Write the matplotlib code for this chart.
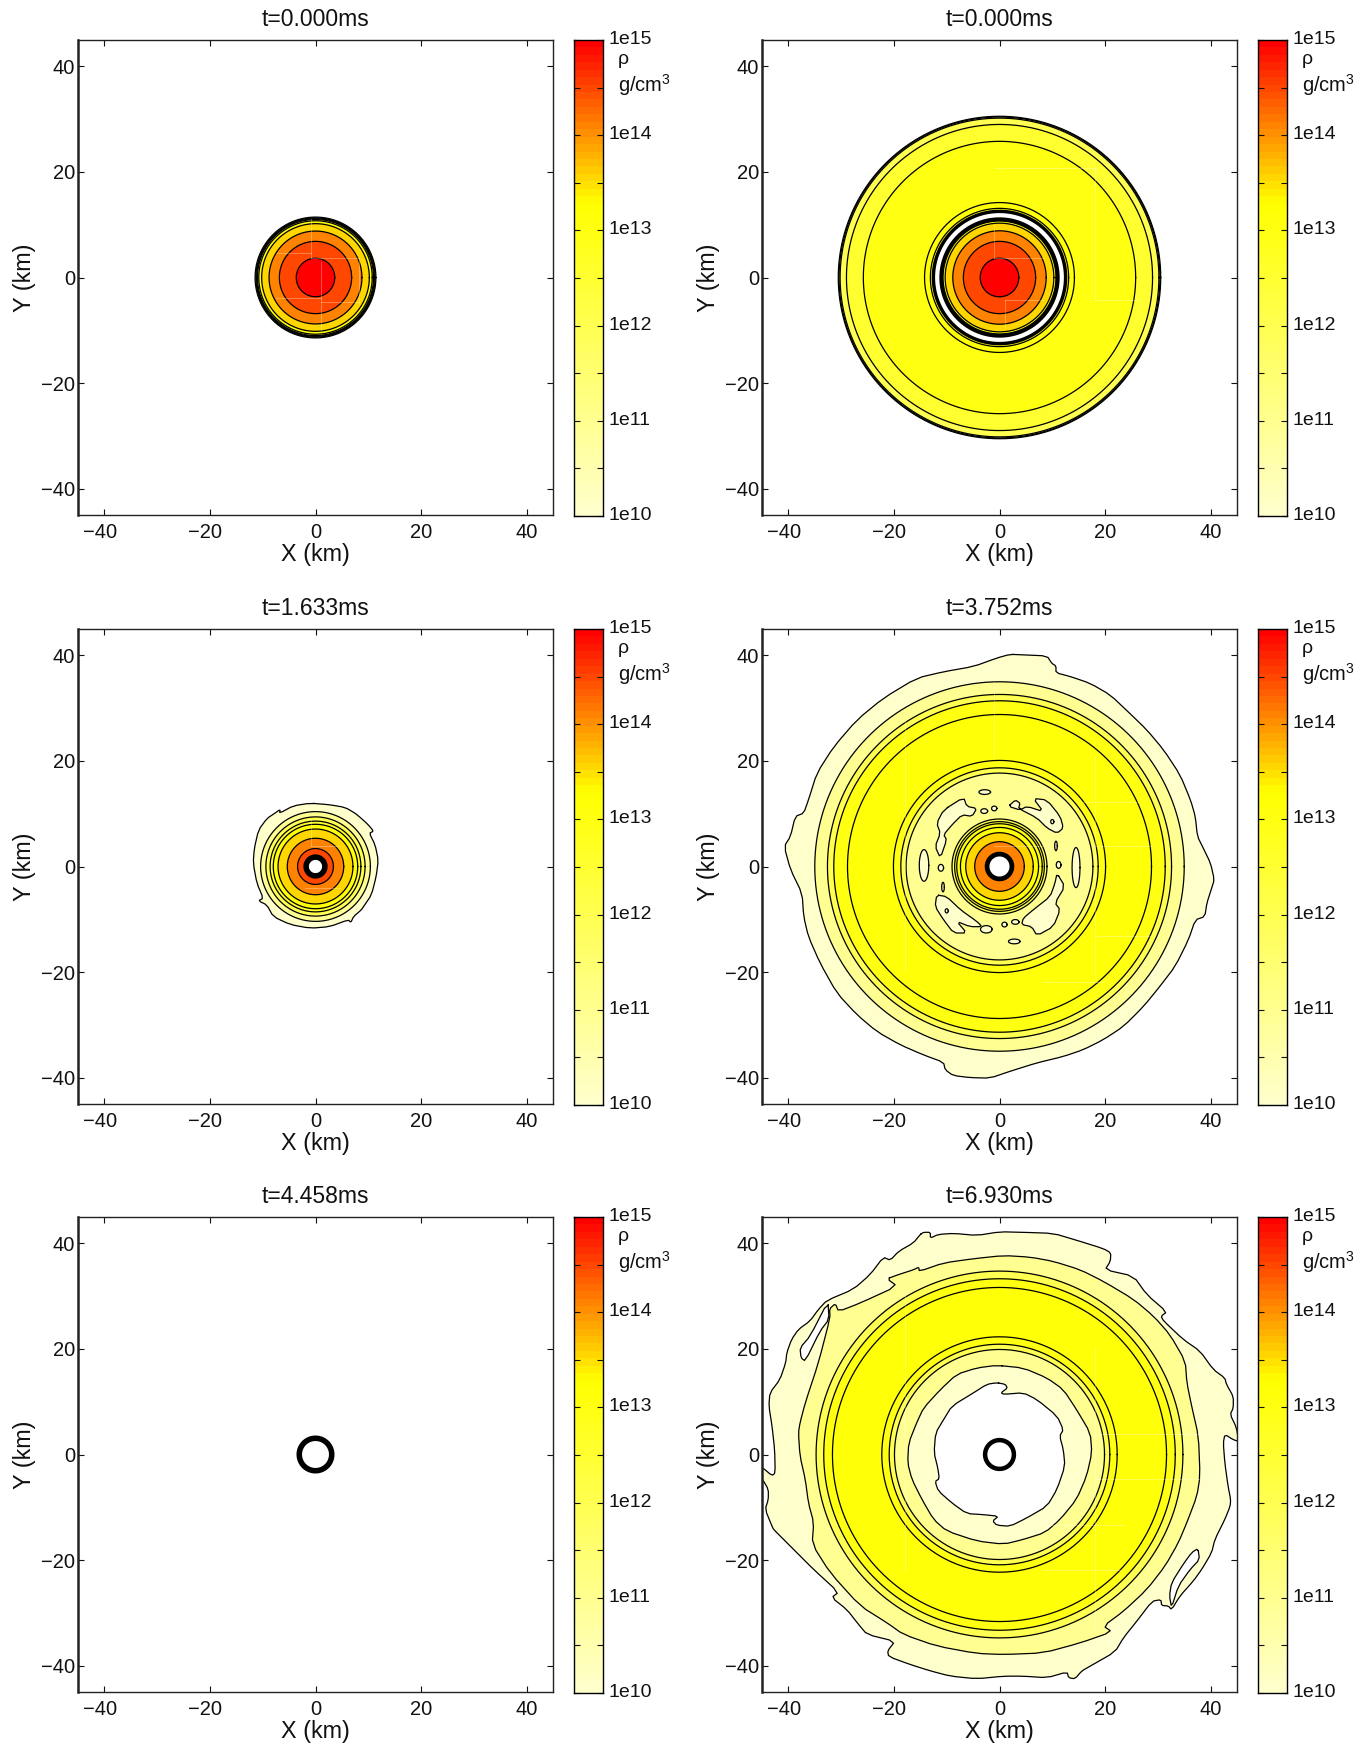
import numpy as np
import matplotlib
matplotlib.use("Agg")
import matplotlib.pyplot as plt
from matplotlib.colors import LinearSegmentedColormap, Normalize
from matplotlib.transforms import ScaledTranslation

plt.rcParams['font.family'] = ['Liberation Sans', 'DejaVu Sans']
plt.rcParams['mathtext.fontset'] = 'custom'
plt.rcParams['mathtext.rm'] = 'Liberation Sans'
plt.rcParams['mathtext.default'] = 'regular'

TITLES = ["t=0.000ms", "t=0.000ms", "t=1.633ms", "t=3.752ms", "t=4.458ms", "t=6.930ms"]
X_TICKS = [-40, -20, 0, 20, 40]
CB_LABELS = ["1e10", "1e11", "1e12", "1e13", "1e14", "1e15"]
CB_EXPONENTS = [10, 11, 12, 13, 14, 15]
CB_MINOR = [10.5, 11.5, 12.5, 13.5, 14.5]

BLACK = -1.0          # densely packed contours, seen as a solid black ring
EMPTY = float('nan')  # no matter: white

# --- circular contours: radius (km) and log10(rho) of the band inside it
P1_RADII = [11.45, 11.3, 11.15, 11.0, 10.75, 10.2, 8.8, 6.85, 3.65]
P1_LEVELS = [10, 11, 12, 12.5, 13.2, 13.57, 14.07, 14.5, 15]

P2_RADII = [30.55, 30.4, 30.2, 29.0, 25.8, 14.2, 13.1, 12.85, 12.2, 11.4, 10.7, 10.3, 8.85, 6.85, 3.66]
P2_LEVELS = [10, 11, 12, 12.5, 13, 13.2, 13, BLACK, EMPTY, BLACK, 13.2, 13.57, 14.07, 14.5, 15]

P3_RADII = [10.4, 9.4, 8.6, 8.0, 7.1, 5.35, 3.4, 2.3, 1.25]
P3_LEVELS = [11, 12, 12.5, 13.2, 13.57, 14.07, 14.5, BLACK, EMPTY]

P4_OUTER_RADII = [35.0, 32.6, 31.4, 28.8, 20.1, 18.7, 17.7]
P4_OUTER_LEVELS = [11, 12, 13, 13.2, 13, 12, 11]
P4_INNER_RADII = [9.0, 8.5, 8.1, 7.4, 6.4, 4.7, 2.8, 1.9]
P4_INNER_LEVELS = [12, 12.5, 13, 13.2, 13.57, 14.07, BLACK, EMPTY]

P5_RADII = [3.6, 2.55]
P5_LEVELS = [BLACK, EMPTY]

P6_OUTER_RADII = [34.75, 33.3, 31.65, 22.3, 20.9, 19.9]
P6_OUTER_LEVELS = [12, 13, 13.2, 13, 12, 11]
P6_CORE_RADII = [3.15, 2.3]
P6_CORE_LEVELS = [BLACK, EMPTY]

# --- irregular contours (x, y in km)
P3_EDGE = [(-1.0, 12.0), (2.7, 11.7), (5.6, 11.2), (7.5, 10.1), (8.7, 9.1), (10.0, 7.9), (11.0, 6.7),
           (10.2, 6.3), (11.3, 4.1), (11.9, 1.2), (11.5, -1.9), (10.6, -5.4), (9.1, -7.6), (8.7, -8.2),
           (7.2, -9.5), (6.7, -10.6), (6.2, -10.1), (2.7, -11.4), (-1.0, -11.7), (-4.8, -11.0),
           (-8.0, -9.5), (-9.2, -7.3), (-10.8, -6.5), (-9.9, -6.0), (-11.1, -3.2), (-11.8, 0.6),
           (-11.6, 3.4), (-10.8, 6.9), (-9.2, 9.1), (-7.7, 10.1), (-6.7, 10.8), (-6.8, 10.1), (-4.2, 11.5)]

P4_EDGE = [(2.0, 40.2), (4.5, 40.1), (9.0, 39.9), (9.9, 38.5), (10.7, 38.0), (10.7, 36.7), (13.4, 36.0),
           (17.2, 34.7), (21.0, 32.5), (24.7, 29.0), (27.9, 25.9), (31.1, 22.1), (34.2, 17.4), (36.2, 12.6),
           (37.1, 9.5), (37.5, 5.7), (38.6, 3.5), (40.0, 0.6), (40.7, -2.5), (40.2, -4.1), (39.3, -6.9),
           (38.9, -9.5), (37.1, -10.1), (35.8, -13.9), (33.3, -18.9), (30.4, -22.7), (27.3, -26.5),
           (23.5, -30.3), (19.7, -32.8), (15.9, -34.7), (12.1, -36.0), (7.1, -37.2), (2.0, -38.8),
           (-1.8, -40.1), (-5.6, -40.0), (-8.8, -39.6), (-10.3, -38.5), (-10.6, -37.1), (-14.4, -35.7),
           (-18.8, -33.8), (-23.2, -31.3), (-27.0, -28.1), (-30.8, -24.0), (-34.0, -18.3), (-36.2, -13.3),
           (-37.1, -9.5), (-37.4, -5.1), (-39.6, -0.6), (-40.8, 3.8), (-39.6, 5.7), (-38.7, 9.5),
           (-37.1, 10.1), (-36.2, 12.6), (-34.6, 17.7), (-31.4, 22.7), (-27.0, 27.8), (-22.0, 31.9),
           (-15.7, 35.7), (-10.6, 36.9), (-4.9, 37.9), (-0.5, 39.5)]

P4_BLOBS = [
    [(-10.6, 10.7), (-6.8, 13.1), (-6.2, 11.4), (-4.3, 11.0), (-5.2, 9.5), (-7.1, 9.8), (-9.0, 7.9),
     (-10.6, 6.0), (-10.0, 5.1), (-11.2, 1.6), (-12.2, 3.8), (-11.2, 6.3), (-11.9, 8.2)],
    [(1.7, 11.4), (3.0, 12.6), (3.9, 12.0), (3.6, 11.0), (7.1, 9.2), (9.0, 7.3), (10.9, 6.3), (12.1, 7.3),
     (11.5, 9.5), (9.0, 12.6), (6.4, 12.9), (8.3, 10.4), (5.2, 11.4), (3.9, 10.7)],
    [(-11.9, -5.4), (-10.0, -5.7), (-7.4, -8.2), (-4.3, -10.4), (-3.3, -11.4), (-5.6, -11.4), (-8.1, -10.4),
     (-6.2, -12.6), (-8.7, -12.6), (-10.6, -10.1), (-12.2, -7.6)],
    [(10.9, -1.3), (12.4, -3.8), (10.5, -6.9), (11.5, -8.2), (10.2, -11.4), (7.1, -13.1), (6.1, -11.4),
     (4.2, -11.0), (4.5, -9.8), (6.4, -8.2), (9.6, -5.7), (10.5, -3.2)],
]
# small islands: centre x, centre y, half width, half height (km)
P4_ISLANDS = [(-2.8, 14.1, 1.1, .45), (-2.9, 10.5, .65, .45), (-1.0, 11.0, .5, .45), (-14.3, 0.2, .9, 3.0),
              (14.5, -0.2, .75, 3.8), (-11.1, -0.25, .5, .65), (11.2, 0.3, .45, .65), (2.8, -14.2, 1.1, .45),
              (0.95, -11.0, .5, .45), (3.0, -10.5, .7, .45), (10.0, 8.5, .3, .4), (-10.0, -8.4, .3, .4),
              (-2.5, -11.9, 1.1, .7), (10.7, 3.9, .25, .9), (-10.7, -3.9, .25, .9)]

P6_EDGE = [(-15.0, 41.7), (-14.4, 42.1), (-13.1, 42.1), (-13.1, 41.0), (-11.6, 41.7), (-8.7, 41.9), (-4.3, 41.5),
           (0.1, 42.2), (4.5, 42.1), (10.2, 41.9), (14.6, 40.6), (19.7, 39.0), (21.1, 38.2), (21.0, 36.6),
           (20.0, 35.0), (25.4, 33.8), (27.9, 30.3), (31.7, 27.0), (30.6, 26.2), (31.1, 25.3), (34.8, 21.8),
           (38.0, 19.6), (40.5, 16.1), (42.7, 14.5), (43.0, 13.3), (44.3, 11.0), (44.3, 8.8), (43.7, 7.6),
           (44.9, 5.1), (45.3, 2.5), (44.3, 2.8), (42.7, 3.8), (42.4, 2.2), (42.7, -1.6), (43.3, -6.0),
           (43.8, -8.5), (43.7, -9.8), (42.7, -12.3), (40.8, -16.1), (40.2, -18.6), (38.3, -21.8), (36.7, -24.0),
           (34.2, -26.8), (32.6, -29.4), (32.0, -28.7), (30.7, -28.6), (30.6, -27.5), (28.9, -27.8), (26.0, -31.6),
           (23.5, -34.7), (21.9, -37.4), (17.2, -40.1), (15.6, -41.0), (14.3, -42.5), (13.1, -42.3), (12.8, -41.2),
           (9.0, -42.3), (4.5, -42.0), (0.8, -42.0), (-4.3, -42.5), (-9.3, -42.0), (-13.1, -41.0), (-16.9, -39.8),
           (-21.0, -38.3), (-21.2, -37.2), (-19.8, -35.4), (-25.1, -34.1), (-26.7, -32.2), (-28.9, -29.4),
           (-31.8, -27.1), (-30.5, -26.1), (-35.2, -21.8), (-38.4, -18.6), (-40.9, -16.1), (-42.8, -14.2),
           (-43.1, -13.6), (-44.4, -10.4), (-43.8, -8.5), (-43.8, -6.6), (-44.9, -4.7), (-46.0, -4.5), (-46.0, -2.2),
           (-44.9, -2.5), (-43.1, -4.0), (-42.5, -3.5), (-42.6, 0.9), (-43.1, 5.4), (-43.7, 9.2), (-43.5, 11.7),
           (-41.6, 14.2), (-40.5, 17.4), (-40.3, 19.3), (-39.4, 21.8), (-38.1, 23.7), (-35.9, 25.3), (-34.3, 27.5),
           (-32.7, 29.2), (-27.7, 31.3), (-24.5, 34.1), (-22.0, 37.4), (-20.7, 36.8), (-19.1, 38.5), (-16.3, 40.1)]

P6_SECOND = [(-21.3, 33.3), (-19.1, 34.1), (-16.3, 35.0), (-15.3, 35.5), (-15.2, 34.7), (-10.6, 36.3), (-4.9, 37.1),
             (0.8, 37.7), (5.8, 37.4), (10.2, 36.6), (15.3, 35.0), (19.7, 32.8), (25.4, 29.4), (29.2, 26.2),
             (32.3, 22.7), (35.2, 17.7), (35.5, 13.6), (36.4, 9.2), (37.7, 3.5), (38.0, -4.1), (37.4, -7.9),
             (35.5, -12.9), (33.9, -16.7), (31.4, -21.1), (27.9, -25.6), (23.5, -29.7), (19.7, -32.5), (21.3, -33.6),
             (15.3, -35.7), (8.3, -37.6), (0.8, -37.9), (-4.3, -37.7), (-11.9, -36.3), (-18.2, -34.1), (-21.3, -31.9),
             (-26.4, -28.7), (-32.1, -22.4), (-35.5, -17.0), (-35.2, -12.9), (-36.2, -9.2), (-36.8, -4.7),
             (-37.8, -0.3), (-38.1, 4.1), (-37.8, 6.0), (-36.8, 9.8), (-34.3, 17.4), (-32.1, 25.9), (-32.2, 27.6),
             (-31.1, 28.6), (-30.5, 27.1), (-26.4, 28.7), (-19.4, 31.9)]

P6_SLIVERS = [
    [(37.6, -17.8), (37.9, -19.9), (36.1, -21.8), (33.9, -24.9), (32.6, -29.0), (32.2, -26.8), (32.6, -24.3),
     (34.8, -20.8), (36.4, -18.6)],
    [(-32.5, 29.0), (-32.3, 25.6), (-34.0, 23.4), (-36.8, 17.7), (-37.6, 18.3), (-37.8, 20.2), (-35.9, 22.4)],
]

P6_THIRD = [(-0.5, 16.9), (4.5, 16.4), (9.0, 14.5), (12.1, 12.3), (14.6, 8.5), (17.2, 4.1), (17.5, 0.3), (16.5, -4.1),
            (14.6, -8.5), (11.5, -12.3), (8.6, -14.8), (4.5, -16.1), (0.8, -17.0), (-4.3, -16.4), (-10.0, -14.5),
            (-12.5, -12.3), (-14.7, -8.5), (-16.6, -4.7), (-17.4, -1.6), (-17.2, 2.2), (-15.7, 6.0), (-14.4, 8.8),
            (-11.2, 12.3), (-8.1, 15.2), (-4.3, 16.4)]

P6_HOLE = [(-0.5, 13.6), (1.1, 13.3), (1.5, 12.6), (0.3, 11.7), (0.8, 11.4), (4.5, 11.7), (7.1, 10.4), (10.9, 7.3),
           (12.1, 4.7), (11.4, 3.5), (12.1, 0.9), (12.4, -2.2), (10.9, -6.6), (9.0, -9.8), (5.2, -12.0), (2.0, -13.6),
           (-0.5, -13.4), (-1.3, -12.6), (-0.2, -11.7), (-3.0, -11.4), (-6.2, -11.2), (-9.0, -9.2), (-11.6, -6.9),
           (-12.2, -5.1), (-11.4, -4.6), (-11.7, -2.5), (-12.4, 0.3), (-12.1, 4.1), (-10.6, 6.6), (-9.0, 9.2),
           (-4.9, 11.7), (-2.4, 13.3)]

# faint mesh-refinement boundaries seen on the density field: x0, y0, x1, y1 (km)
P1_MESH = [(-0.9, 11, -0.9, 3.7), (-0.9, 3.7, 8.3, 3.7), (-7.3, 4.7, -0.9, 4.7), (8.3, 3.7, 8.3, -4.9),
           (1.1, -4.7, 8.3, -4.7), (1.1, 3.0, 1.1, -9.9), (-7.5, -3.9, 1.1, -3.9)]
P2_MESH = [(-0.95, 3.7, -0.95, 10.0), (-0.95, 3.7, 8.3, 3.7), (1.1, -4.2, 8.3, -4.2), (1.1, -4.2, 1.1, -9.5),
           (-0.8, 20.8, 18.4, 20.8), (18.1, 20.8, 18.1, -4.2), (18.1, -4.2, 26.6, -4.2)]
P3_MESH = [(-0.9, 8.8, -0.9, 3.8), (-0.9, 3.8, 4.6, 3.8), (-2.0, -4.0, 4.6, -4.0)]
P4_MESH = [(15.9, 12.3, 26.0, 12.3), (-1.0, 3.8, 8.0, 3.8), (17.5, 3.8, 28.5, 3.8), (18.1, 21.0, 18.1, -21.0),
           (18.0, -13.1, 28.5, -13.1), (8.3, -21.8, 19.7, -21.8), (-17.9, 27.8, -17.9, -20.0), (-1.0, 35.0, -1.0, 20.5)]
P6_MESH = [(18.1, 3.8, 38.0, 3.8), (18.1, -4.7, 38.0, -4.7), (8.3, -13.3, 23.5, -13.3), (8.3, -21.8, 22.9, -21.8),
           (18.1, 20.5, 18.1, -33.0), (-18.0, 31.0, -18.0, -22.0)]

# colour scale: pale yellow -> yellow -> red in log10(rho)
CMAP = LinearSegmentedColormap.from_list(
    "rho", [(0.0, (1, 1, 0.8)), (0.66, (1, 1, 0)), (1.0, (1, 0, 0))], N=64)
NORM = Normalize(10, 15)

W, H = 1369, 1743
fig = plt.figure(figsize=(W / 100, H / 100), dpi=100, facecolor='white')
COLS = [(78, 553, 574.3), (762, 1237, 1258.3)]
ROWS = [40, 629, 1217]
SIDE = 475.0
THETA = np.linspace(0, 2 * np.pi, 361)
LINE_W = 0.9


def chaikin(p):
    q = np.roll(p, -1, axis=0)
    out = np.empty((2 * len(p), 2))
    out[0::2] = 0.8 * p + 0.2 * q
    out[1::2] = 0.2 * p + 0.8 * q
    return out


def band(ax, x, y, level):
    x = np.r_[x, x[0]]
    y = np.r_[y, y[0]]
    if level == BLACK:
        ax.fill(x, y, color='k', lw=0)
    elif np.isnan(level):
        ax.fill(x, y, color='white', lw=0)
    else:
        ax.fill(x, y, color=CMAP(NORM(level)), lw=0)
        ax.plot(x, y, color='k', lw=LINE_W)


def circles(ax, radii, levels):
    for r, lev in zip(radii, levels):
        band(ax, r * np.cos(THETA[:-1]), r * np.sin(THETA[:-1]), lev)


def poly(ax, pts, level):
    p = chaikin(np.array(pts))
    band(ax, p[:, 0], p[:, 1], level)


def outlined_hole(ax, pts):
    p = chaikin(np.array(pts))
    ax.fill(p[:, 0], p[:, 1], color='white', lw=0)
    ax.plot(np.r_[p[:, 0], p[0, 0]], np.r_[p[:, 1], p[0, 1]], color='k', lw=LINE_W)


def islands(ax, items, level):
    for cx, cy, rx, ry in items:
        band(ax, cx + rx * np.cos(THETA[:-1]), cy + ry * np.sin(THETA[:-1]), level)


def mesh(ax, segments):
    for x0, y0, x1, y1 in segments:
        ax.plot([x0, x1], [y0, y1], color='white', alpha=0.3, lw=0.7, zorder=2.5)


def panel1(ax):
    circles(ax, P1_RADII, P1_LEVELS)
    mesh(ax, P1_MESH)


def panel2(ax):
    circles(ax, P2_RADII, P2_LEVELS)
    mesh(ax, P2_MESH)


def panel3(ax):
    poly(ax, P3_EDGE, 10)
    circles(ax, P3_RADII, P3_LEVELS)
    mesh(ax, P3_MESH)


def panel4(ax):
    poly(ax, P4_EDGE, 10)
    circles(ax, P4_OUTER_RADII, P4_OUTER_LEVELS)
    for b in P4_BLOBS:
        poly(ax, b, 10)
    islands(ax, P4_ISLANDS, 10)
    circles(ax, P4_INNER_RADII, P4_INNER_LEVELS)
    mesh(ax, P4_MESH)


def panel5(ax):
    circles(ax, P5_RADII, P5_LEVELS)


def panel6(ax):
    poly(ax, P6_EDGE, 10)
    for s in P6_SLIVERS:
        outlined_hole(ax, s)
    poly(ax, P6_SECOND, 11)
    circles(ax, P6_OUTER_RADII, P6_OUTER_LEVELS)
    poly(ax, P6_THIRD, 10)
    outlined_hole(ax, P6_HOLE)
    circles(ax, P6_CORE_RADII, P6_CORE_LEVELS)
    mesh(ax, P6_MESH)


PAINTERS = [panel1, panel2, panel3, panel4, panel5, panel6]

for i, (title, painter) in enumerate(zip(TITLES, PAINTERS)):
    row, col = i // 2, i % 2
    left, right, cb_left = COLS[col]
    top = ROWS[row]
    ax = fig.add_axes([left / W, 1 - (top + SIDE) / H, (right - left) / W, SIDE / H])
    painter(ax)
    ax.set_xlim(-45, 45)
    ax.set_ylim(-45, 45)
    ax.set_xticks(X_TICKS)
    ax.set_yticks(X_TICKS)
    ax.tick_params(direction='in', top=True, right=True, length=4.5, width=0.8, labelsize=14.5, colors='#111111')
    ax.tick_params(axis='x', pad=6)
    ax.tick_params(axis='y', pad=2.2)
    ax.set_title(title, fontsize=16.5, pad=10, color='#111111')
    ax.set_xlabel("X (km)", fontsize=16.8, labelpad=0.6, color='#111111')
    ax.set_ylabel("Y (km)", fontsize=16.8, labelpad=3.5, color='#111111')
    # negative x labels sit left of their ticks in the reference
    shift_left = ScaledTranslation(-4.5 / 100, 0, fig.dpi_scale_trans)
    fig.canvas.draw_idle()
    for tick_value, lab in zip(X_TICKS, ax.get_xticklabels()):
        if tick_value < 0:
            lab.set_transform(lab.get_transform() + shift_left)
    for name, s in ax.spines.items():
        s.set_linewidth(1.8 if name == 'left' else 1.0)
        s.set_color('#222222')

    cax = fig.add_axes([cb_left / W, 1 - (top + SIDE + 1) / H, 29 / W, (SIDE + 1) / H])
    grad = np.linspace(10, 15, 64)[:, None]
    cax.pcolormesh([0, 1], np.linspace(10, 15, 65), grad, cmap=CMAP, norm=NORM)
    cax.set_xlim(0, 1)
    cax.set_ylim(10, 15)
    cax.set_xticks([])
    cax.yaxis.tick_right()
    cax.set_yticks(CB_EXPONENTS)
    cax.set_yticklabels(CB_LABELS)
    cax.set_yticks(CB_MINOR, minor=True)
    cax.tick_params(which='both', axis='y', direction='in', left=True, right=True, length=4.5, width=0.8,
                    labelsize=14, pad=3.5, colors='#111111')
    shift_up = ScaledTranslation(0, 2.5 / 100, fig.dpi_scale_trans)
    for lab in cax.get_yticklabels():
        lab.set_transform(lab.get_transform() + shift_up)
    cax.text(1.5, 14.8, "ρ", fontsize=14, va='center', ha='left', color='#111111', clip_on=False)
    cax.text(1.5, 14.53, "g/cm$^3$", fontsize=14.5, va='center', ha='left', color='#111111', clip_on=False)
    for s in cax.spines.values():
        s.set_linewidth(1.0)

fig.savefig("out.png", dpi=100, facecolor='white')
